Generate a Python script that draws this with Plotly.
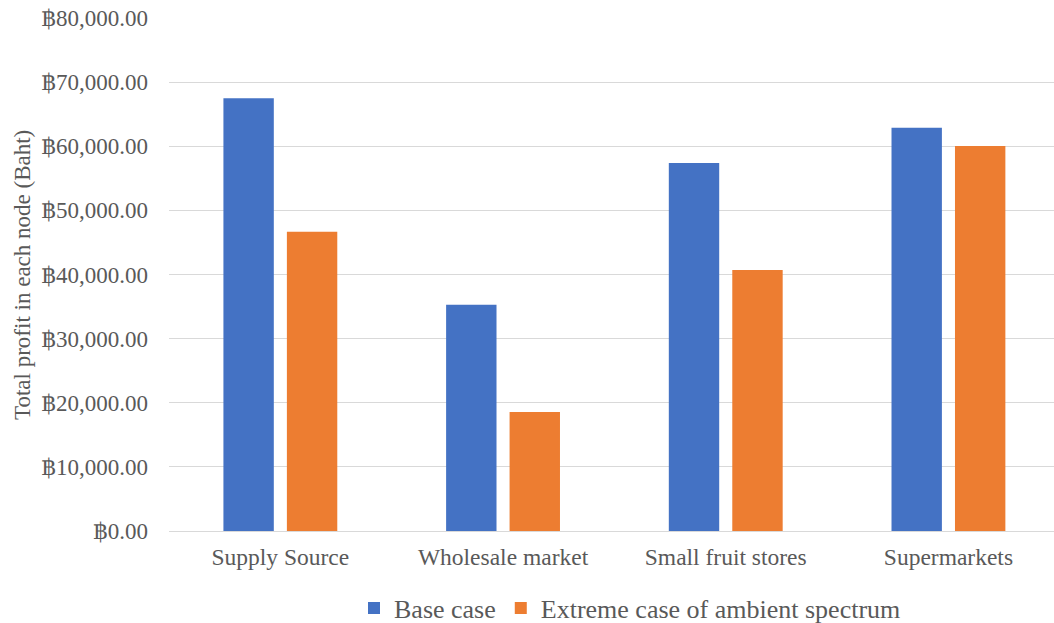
import plotly.graph_objects as go

categories = ["Supply Source", "Wholesale market", "Small fruit stores", "Supermarkets"]
base_case = [67500, 35300, 57400, 62870]
extreme_case = [46670, 18560, 40720, 60030]
series_names = ["Base case", "Extreme case of ambient spectrum"]
y_title = "Total profit in each node (Baht)"

W, H = 1054, 623
L, R, T, B = 169, 0, 18, 92
plot_w = W - L - R

font_family = "Liberation Serif, Times New Roman, DejaVu Serif, serif"
text_color = "#595959"

fig = go.Figure()
fig.add_trace(go.Bar(x=categories, y=base_case, name=series_names[0],
                     marker=dict(color="#4472C4", line=dict(width=0))))
fig.add_trace(go.Bar(x=categories, y=extreme_case, name=series_names[1],
                     marker=dict(color="#ED7D31", line=dict(width=0))))

fig.update_layout(
    width=W, height=H,
    margin=dict(l=L, r=R, t=T, b=B, autoexpand=False),
    paper_bgcolor="white", plot_bgcolor="white",
    barmode="group", bargap=0.43, bargroupgap=0.206,
    font=dict(family=font_family, color=text_color, size=23),
    showlegend=True,
    legend=dict(orientation="h", x=(630 - L) / plot_w, xanchor="center",
                y=-(608 - 531) / (531 - T), yanchor="middle",
                font=dict(size=26, color=text_color),
                itemwidth=30, traceorder="normal"),
    xaxis=dict(showgrid=False, showline=False, zeroline=False,
               range=[-0.5, 3.474],
               ticks="", tickfont=dict(size=23.5, color=text_color),
               ticklabelstandoff=9),
    yaxis=dict(range=[0, 80000], dtick=10000, tick0=0,
               tickprefix="฿", tickformat=",.2f",
               showgrid=True, gridcolor="#D9D9D9", gridwidth=1.3,
               zeroline=True, zerolinecolor="#D9D9D9", zerolinewidth=1.3,
               showline=False, ticks="", ticklabelstandoff=20,
               tickfont=dict(size=23, color=text_color)),
    annotations=[dict(text=y_title, textangle=-90, xref="paper", yref="paper",
                      x=(22 - L) / plot_w, y=(531 - 275) / (531 - T),
                      xanchor="center", yanchor="middle", showarrow=False,
                      font=dict(size=23, color=text_color))],
)

fig.write_html("out.html")
